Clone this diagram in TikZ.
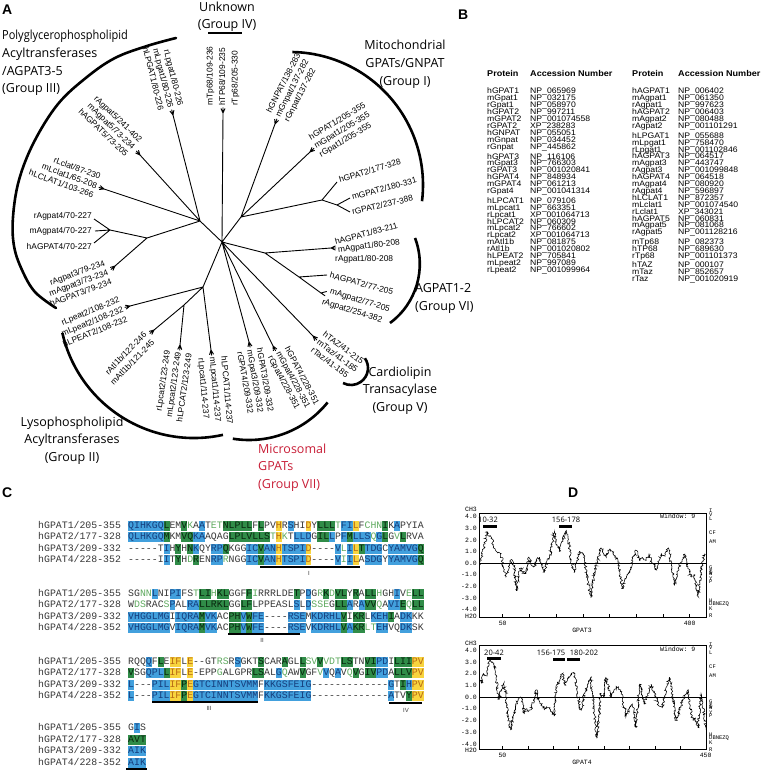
\documentclass[tikz,border=0pt]{standalone}
\usepackage{fontspec}
\setmainfont{Liberation Sans}
\setmonofont{Liberation Mono}
\newfontfamily\grpfont{Open Sans}
\newfontfamily\tabfont{Liberation Sans}[FakeStretch=1.08]
\usetikzlibrary{decorations.pathmorphing}
\definecolor{sqB}{RGB}{66,160,221}
\definecolor{sqBt}{RGB}{22,62,125}
\definecolor{sqG}{RGB}{48,140,72}
\definecolor{sqGt}{RGB}{8,38,14}
\definecolor{sqY}{RGB}{248,212,62}
\definecolor{sqYt}{RGB}{185,105,20}
\definecolor{sqL}{RGB}{95,170,95}
\definecolor{sqP}{RGB}{55,55,55}
\definecolor{grpred}{RGB}{200,30,55}
\newcommand\rsbox[3]{{\setlength{\fboxsep}{0pt}\colorbox{#1}{\textcolor{#2}{\rule[-2.6pt]{0pt}{10pt}#3}}}}
\newcommand\rsB[1]{\rsbox{sqB}{sqBt}{#1}}
\newcommand\rsG[1]{\rsbox{sqG}{sqGt}{#1}}
\newcommand\rsY[1]{\rsbox{sqY}{sqYt}{#1}}
\newcommand\rsL[1]{\textcolor{sqL}{#1}}
\newcommand\rsP[1]{\textcolor{sqP}{#1}}
\newcommand\mytwig[2]{\draw[tedge] (#1) -- ++(#2-24:5) (#1) -- ++(#2:5.5) (#1) -- ++(#2+24:5);}
\newcommand\tabgroup[5]{\foreach \p/\a [count=\i] in {#5} {\node[tb] (#1p\i) at (#2,{#4+(\i-1)*6.9}) {\p}; \node[tb] (#1a\i) at (#3,{#4+(\i-1)*6.9}) {\a};}}
\tikzset{
  tedge/.style={line width=0.9pt},
  grp/.style={line width=2.6pt},
  lbl/.style={font=\fontsize{8.4}{10}\selectfont, inner sep=0pt, align=left},
  lblr/.style={lbl, align=right},
  gtxt/.style={font=\grpfont\fontsize{12.5}{15}\selectfont, inner sep=0pt},
  plet/.style={font=\bfseries\fontsize{14}{14}\selectfont, inner sep=0pt, anchor=base west},
  tb/.style={font=\tabfont\fontsize{8}{8}\selectfont, inner sep=0pt, anchor=base west},
  tbh/.style={font=\tabfont\bfseries\fontsize{8.4}{9}\selectfont, inner sep=0pt, anchor=base west},
  seqtxt/.style={font=\ttfamily\fontsize{9.85}{11.5}\selectfont, inner sep=0pt, anchor=base west, text=sqP},
  uline/.style={line width=1.3pt},
  ulab/.style={font=\fontsize{6}{6}\selectfont, inner sep=0pt, anchor=base, text=sqP},
  axl/.style={font=\ttfamily\fontsize{6.5}{7}\selectfont, inner sep=0pt},
  axr/.style={font=\ttfamily\fontsize{5.5}{6}\selectfont, inner sep=0pt, anchor=base west},
  hlab/.style={font=\grpfont\fontsize{7.5}{8}\selectfont, inner sep=0pt, anchor=base},
  hbar/.style={line width=3pt},
  trace/.style={line width=0.55pt, decorate, decoration={random steps, segment length=1pt, amplitude=1.3pt}}
}
\begin{document}
\begin{tikzpicture}[x=1pt,y=-1pt]
\useasboundingbox (0,0) rectangle (766,773);
\pgfmathsetseed{7}
% ---------------- panel letters
\node[plet] (pA) at (2,15) {A};
\node[plet] (pB) at (458,20) {B};
\node[plet] (pC) at (2,497) {C};
\node[plet] (pD) at (568,497) {D};
% ---------------- tree: internal nodes
\coordinate (N1) at (200,221);
\coordinate (Nc) at (222,242);
\coordinate (Nm) at (241,217);
\coordinate (Nag) at (265,253);
\coordinate (Nag2) at (299,277);
\coordinate (A34) at (147,238);
\coordinate (NL1) at (203,287);
\coordinate (NL2) at (184,305);
% forks
\coordinate (Flpg) at (173,115);
\coordinate (Fa5) at (140,155);
\coordinate (Flc) at (104,189);
\coordinate (Fa4) at (110,230);
\coordinate (Fa3) at (115,266);
\coordinate (Ftp) at (223,113);
\coordinate (Fgn) at (275,124);
\coordinate (Fg1) at (310,152);
\coordinate (Fg2) at (322,200);
\coordinate (Fg2b) at (337,205);
\coordinate (Fa1) at (331,248);
\coordinate (Fa2b) at (321,293);
\coordinate (Ftaz) at (313,336);
\coordinate (Fg4) at (273,346);
\coordinate (Fg3) at (249,342);
\coordinate (Flpe) at (130,306);
\coordinate (Fatl) at (154,330);
\coordinate (Flpc2) at (180,345);
\coordinate (Flpc1) at (211,350);
% leaves
\coordinate (Lh2) at (337,182);
\coordinate (Lm2) at (350,198);
\coordinate (Lr2) at (350,212);
\coordinate (Lha2) at (327,275);
\coordinate (La4r) at (94,219);
\coordinate (La4m) at (95,231);
\coordinate (La4h) at (94,243);
\draw[tedge] (N1) -- (Flpg) (N1) -- (Fa5) (N1) -- (Flc) (N1) -- (A34) (N1) -- (Nc)
  (A34) -- (Fa4) (A34) -- (Fa3)
  (Nc) -- (Ftp) (Nc) -- (Nm) (Nm) -- (Fgn) (Nm) -- (Fg1) (Nm) -- (Fg2)
  (Fg2) -- (Fg2b) (Fg2) -- (Lh2) (Fg2b) -- (Lm2) (Fg2b) -- (Lr2)
  (Nc) -- (Nag) (Nag) -- (Fa1) (Nag) -- (Nag2) (Nag2) -- (Fa2b) (Nag2) -- (Lha2)
  (Nc) -- (Ftaz) (Nc) -- (Fg4) (Nc) -- (Fg3)
  (Nc) -- (NL1) (NL1) -- (Flpe) (NL1) -- (NL2) (NL2) -- (Fatl) (NL2) -- (Flpc2) (NL1) -- (Flpc1)
  (Fa4) -- (La4r) (Fa4) -- (La4m) (Fa4) -- (La4h);
\draw[tedge] (Fa2b) -- ++(-15:6) (Fa2b) -- ++(35:5);
\draw[tedge] (Fa1) -- ++(-25:5) (Fa1) -- ++(0:5) (Fa1) -- ++(25:5);
\mytwig{Flpg}{-104}
\mytwig{Fa5}{-132}
\mytwig{Flc}{-162}
\mytwig{Fa3}{139}
\mytwig{Ftp}{-90}
\mytwig{Fgn}{-70}
\mytwig{Fg1}{-43}
\mytwig{Ftaz}{46}
\mytwig{Fg4}{62}
\mytwig{Fg3}{78}
\mytwig{Flpe}{165}
\mytwig{Fatl}{140}
\mytwig{Flpc2}{93}
\mytwig{Flpc1}{83}
% leaf labels
\node[lblr, anchor=east, rotate=-76] (tLpg) at (171,108) {rLpgat1/80-226\\mLpgat1/80-226\\hLPGAT1/80-226};
\node[lblr, anchor=east, rotate=-44] (tA5) at (134,148) {rAgpat5/241-402\\mAgpat5/73-234\\hAGPAT5/73-205};
\node[lblr, anchor=east, rotate=-20] (tLc) at (97,186) {rLclat/87-230\\mLclat1/65-208\\hLCLAT1/103-266};
\node[lbl, anchor=east] (tA4r) at (92,216) {rAgpat4/70-227};
\node[lbl, anchor=east] (tA4m) at (92,231) {mAgpat4/70-227};
\node[lbl, anchor=east] (tA4h) at (92,246) {hAGPAT4/70-227};
\node[lblr, anchor=east, rotate=20] (tA3) at (108,272) {rAgpat3/79-234\\mAgpat3/73-234\\hAGPAT3/79-234};
\node[lblr, anchor=east, rotate=22, font=\fontsize{8.4}{10.5}\selectfont] (tLpe) at (123,309) {rLpeat2/108-232\\mLpeat2/108-232\\hLPEAT2/108-232};
\node[lblr, anchor=east, rotate=46, font=\fontsize{8.4}{11}\selectfont] (tAtl) at (149,337) {rAtl1b/122-246\\mAtl1b/121-245};
\node[lblr, anchor=east, rotate=82, font=\fontsize{8.4}{11}\selectfont] (tLpc2) at (178,352) {rLpcat2/123-249\\mLpcat2/123-249\\hLPCAT2/123-249};
\node[lbl, anchor=west, rotate=-85, font=\fontsize{8.4}{11.5}\selectfont] (tLpc1) at (212,357) {hLPCAT1/114-237\\mLpcat1/114-237\\rLpcat1/114-237};
\node[lbl, anchor=west, rotate=-80] (tG3) at (250,350) {hGPAT3/209-332\\mGpat3/209-332\\rGPAT4/209-332};
\node[lbl, anchor=west, rotate=-62, font=\fontsize{8.4}{9.5}\selectfont] (tG4) at (278,352) {hGPAT4/228-351\\mGpat4/228-351\\rGpat4/228-351};
\node[lbl, anchor=west, rotate=-37] (tTaz) at (318,341) {hTAZ/41-215\\mTaz/41-185\\rTaz/41-185};
\node[lbl, anchor=west, rotate=-15] (tA2h) at (330,275) {hAGPAT2/77-205};
\node[lbl, anchor=west, rotate=-17] (tA2m) at (330,291.5) {mAgpat2/77-205};
\node[lbl, anchor=west, rotate=-17] (tA2r) at (322,302) {rAgpat2/254-382};
\node[lbl, anchor=west, rotate=15] (tA1h) at (335,242) {hAGPAT1/83-211};
\node[lbl, anchor=west, rotate=7] (tA1m) at (338,250) {mAgpat1/80-208};
\node[lbl, anchor=west] (tA1r) at (335,259) {rAgpat1/80-208};
\node[lbl, anchor=west, rotate=17] (tG2h) at (339,180) {hGPAT2/177-328};
\node[lbl, anchor=west, rotate=15] (tG2m) at (352,197) {mGPAT2/180-331};
\node[lbl, anchor=west, rotate=13] (tG2r) at (352,212) {rGPAT2/237-388};
\node[lbl, anchor=west, rotate=31] (tG1) at (315,147) {hGPAT1/205-355\\mGpat1/205-355\\rGpat1/205-355};
\node[lbl, anchor=west, rotate=63] (tGn) at (278,117) {hGNPAT/138-283\\mGnpat/137-282\\rGnpat/137-282};
\node[lbl, anchor=west, rotate=90, font=\fontsize{8.4}{12.5}\selectfont] (tTp) at (223,106) {mTp68/109-236\\hTP68/109-235\\rTp68/205-330};
% group arcs
\draw[grp, line cap=round] plot[smooth, tension=0.6] coordinates {(176,38) (147,46) (115,58) (87,77) (58,104) (34,142) (19,180) (13,217) (14,246) (22,270) (35,292) (56,308)};
\draw[grp] ([shift={(-89:133)}]290,185) arc[start angle=-89, end angle=7, radius=133];
\draw[grp] ([shift={(167.2:135)}]194,303) arc[start angle=167.2, end angle=77.6, radius=135];
\draw[grp] ([shift={(99.2:101)}]249,339) arc[start angle=99.2, end angle=38.9, radius=101];
\draw[grp] ([shift={(-20.8:73.3)}]346.5,264) arc[start angle=-20.8, end angle=53.6, radius=73.3];
\draw[grp] ([shift={(-35:17)}]351,368) arc[start angle=-35, end angle=118, radius=17];
\draw[grp] (208,33) -- (242,33);
% group labels
\node[gtxt, anchor=base west] (g3a) at (2,40) {\scalebox{0.88}[1]{Polyglycerophospholipid}};
\node[gtxt, anchor=base west] (g3b) at (2,58) {Acyltransferases};
\node[gtxt, anchor=base west] (g3c) at (2,76) {/AGPAT3-5};
\node[gtxt, anchor=base west] (g3d) at (2,93) {(Group III)};
\node[gtxt, anchor=base] (g4a) at (227,12) {Unknown};
\node[gtxt, anchor=base] (g4b) at (227,29) {(Group IV)};
\node[gtxt, anchor=base] (g1a) at (405,50) {Mitochondrial};
\node[gtxt, anchor=base] (g1b) at (405,68) {GPATs/GNPAT};
\node[gtxt, anchor=base] (g1c) at (405,86) {(Group I)};
\node[gtxt, anchor=base west] (g6a) at (415,292) {AGPAT1-2};
\node[gtxt, anchor=base west] (g6b) at (415,310) {(Group VI)};
\node[gtxt, anchor=base] (g5a) at (400,376) {Cardiolipin};
\node[gtxt, anchor=base] (g5b) at (400,393) {Transacylase};
\node[gtxt, anchor=base] (g5c) at (400,411) {(Group V)};
\node[gtxt, anchor=base west, text=grpred] (g7a) at (258,453) {Microsomal};
\node[gtxt, anchor=base west, text=grpred] (g7b) at (258,470) {GPATs};
\node[gtxt, anchor=base west, text=grpred] (g7c) at (258,488) {(Group VII)};
\node[gtxt, anchor=base] (g2a) at (72,426) {Lysophospholipid};
\node[gtxt, anchor=base] (g2b) at (72,443) {Acyltransferases};
\node[gtxt, anchor=base] (g2c) at (72,461) {(Group II)};
% ---------------- panel B
\node[tbh] (hP1) at (487,77) {Protein};
\node[tbh] (hA1) at (530,77) {Accession Number};
\node[tbh] (hP2) at (632,77) {Protein};
\node[tbh] (hA2) at (678,77) {Accession Number};
\tabgroup{ba}{487}{530}{94}{hGPAT1/NP\_065969,mGpat1/NP\_032175,rGpat1/NP\_058970,hGPAT2/NP\_997211,mGPAT2/NP\_001074558,rGPAT2/XP\_238283,hGNPAT/NP\_055051,mGnpat/NP\_034452,rGnpat/NP\_445862}
\tabgroup{bb}{487}{530}{159}{hGPAT3/NP\_116106,mGpat3/NP\_766303,rGPAT3/NP\_001020841,hGPAT4/NP\_848934,mGPAT4/NP\_061213,rGpat4/NP\_001041314}
\tabgroup{bc}{487}{530}{203.3}{hLPCAT1/NP\_079106,mLpcat1/NP\_663351,rLpcat1/XP\_001064713,hLPCAT2/NP\_060309,mLpcat2/NP\_766602,rLpcat2/XP\_001064713,mAtl1b/NP\_081875,rAtl1b/NP\_001020802,hLPEAT2/NP\_705841,mLpeat2/NP\_997089,rLpeat2/NP\_001099964}
\tabgroup{bd}{632}{678}{94}{hAGPAT1/NP\_006402,mAgpat1/NP\_061350,rAgpat1/NP\_997623,hAGPAT2/NP\_006403,mAgpat2/NP\_080488,rAgpat2/NP\_001101291}
\tabgroup{be}{632}{678}{138.2}{hLPGAT1/NP\_055688,mLpgat1/NP\_758470,rLpgat1/NP\_001102846,hAGPAT3/NP\_064517,mAgpat3/NP\_443747,rAgpat3/NP\_001099848,hAGPAT4/NP\_064518,mAgpat4/NP\_080920,rAgpat4/NP\_596897,hLCLAT1/NP\_872357,mLclat1/NP\_001074540,rLclat1/XP\_343021,hAGPAT5/NP\_060831,mAgpat5/NP\_081068,rAgpat5/NP\_001128216}
\tabgroup{bf}{632}{678}{244.3}{mTp68/NP\_082373,hTP68/NP\_689630,rTp68/NP\_001101373}
\tabgroup{bg}{632}{678}{267.6}{hTAZ/NP\_000107,mTaz/NP\_852657,rTaz/NP\_001020919}
% ---------------- panel C
\foreach \blk/\yy in {1/528.2,2/596.2,3/664,4/730.5}{
  \node[seqtxt] (n\blk a) at (38,\yy) {hGPAT1/205-355};
  \node[seqtxt] (n\blk b) at (38,\yy+11.5) {hGPAT2/177-328};
  \node[seqtxt] (n\blk c) at (38,\yy+23) {hGPAT3/209-332};
  \node[seqtxt] (n\blk d) at (38,\yy+34.5) {hGPAT4/228-352};
}
\node[seqtxt] (s1a) at (128,528.2) {\rsB{QIHKGQ}\rsG{L}\rsP{EM}\rsG{V}\rsL{K}\rsP{A}\rsB{A}\rsP{T}\rsL{ET}\rsG{NLPLL}\rsP{F}\rsG{L}\rsP{PV}\rsY{H}\rsP{R}\rsB{S}\rsP{HI}\rsY{D}\rsP{Y}\rsG{LLL}\rsL{T}\rsB{FI}\rsY{L}\rsP{F}\rsL{CHN}\rsG{I}\rsP{K}\rsB{A}\rsP{PYIA}};
\node[seqtxt] (s1b) at (128,539.7) {\rsB{QLHKGQ}\rsG{M}\rsP{KM}\rsG{VQ}\rsB{KA}\rsP{AQAG}\rsG{LPLVLLS}\rsL{T}\rsY{H}\rsL{K}\rsP{T}\rsB{LLD}\rsP{G}\rsG{IL}\rsB{L}\rsP{P}\rsB{F}\rsG{M}\rsB{LLS}\rsL{Q}\rsB{G}\rsG{L}\rsP{G}\rsL{V}\rsG{L}\rsP{RVA}};
\node[seqtxt] (s1c) at (128,551.2) {\rsP{-----T}\rsB{I}\rsP{H}\rsG{Y}\rsP{H}\rsG{N}\rsB{K}\rsP{QY}\rsB{RP}\rsG{Q}\rsP{KGG}\rsB{IC}\rsG{V}\rsB{AN}\rsY{H}\rsB{TSPI}\rsY{D}\rsP{----}\rsB{V}\rsL{L}\rsB{I}\rsY{L}\rsG{T}\rsB{TDG}\rsP{C}\rsB{YAMVG}\rsG{Q}};
\node[seqtxt] (s1d) at (128,562.7) {\rsP{-----I}\rsB{I}\rsP{T}\rsG{Y}\rsP{H}\rsL{D}\rsG{R}\rsP{EN}\rsB{RP}\rsL{R}\rsP{NGG}\rsB{IC}\rsG{V}\rsB{AN}\rsY{H}\rsB{TSPI}\rsY{D}\rsP{----}\rsB{V}\rsL{I}\rsB{I}\rsY{L}\rsP{A}\rsB{SDG}\rsP{Y}\rsB{YAMVG}\rsG{Q}};
\node[seqtxt] (s2a) at (128,596.2) {\rsP{SG}\rsL{NN}\rsB{L}\rsP{NI}\rsB{PI}\rsP{FS}\rsL{T}\rsG{LI}\rsL{H}\rsG{KL}\rsP{GGF}\rsG{F}\rsL{I}\rsP{RRRLDE}\rsG{T}\rsP{P}\rsB{D}\rsP{G}\rsL{R}\rsG{K}\rsL{D}\rsG{VL}\rsP{Y}\rsG{R}\rsP{A}\rsG{LL}\rsL{H}\rsP{GH}\rsB{I}\rsP{V}\rsL{E}\rsG{LL}};
\node[seqtxt] (s2b) at (128,607.7) {\rsP{W}\rsL{DS}\rsP{RAC}\rsL{S}\rsB{P}\rsP{AL}\rsB{RA}\rsG{LLRKL}\rsP{GG}\rsG{LF}\rsP{LPPEASL}\rsB{S}\rsP{L}\rsB{D}\rsL{SSE}\rsP{G}\rsG{LL}\rsB{A}\rsP{R}\rsB{A}\rsG{VV}\rsL{Q}\rsP{A}\rsB{VI}\rsG{E}\rsL{Q}\rsG{LL}};
\node[seqtxt] (s2c) at (128,619.2) {\rsB{VHGGLMG}\rsP{I}\rsB{IQRA}\rsG{M}\rsB{VK}\rsP{AC}\rsG{PH}\rsB{V}\rsG{W}\rsB{FE}\rsP{----}\rsB{RSE}\rsP{M}\rsB{KDRHL}\rsG{V}\rsP{I}\rsG{KR}\rsP{L}\rsB{KEH}\rsG{I}\rsP{A}\rsB{DK}\rsP{KK}};
\node[seqtxt] (s2d) at (128,630.7) {\rsB{VHGGLMG}\rsP{V}\rsB{IQRA}\rsG{M}\rsB{VK}\rsP{AC}\rsG{PH}\rsB{V}\rsG{W}\rsB{FE}\rsP{----}\rsB{RSE}\rsP{V}\rsB{KDRHL}\rsG{V}\rsB{A}\rsG{KR}\rsL{LT}\rsB{EH}\rsP{VQ}\rsB{DK}\rsP{SK}};
\node[seqtxt] (s3a) at (128,664) {\rsP{RQQ}\rsB{Q}\rsP{F}\rsG{L}\rsP{E}\rsY{IF}\rsP{L}\rsY{E}\rsP{--GT}\rsL{RS}\rsP{R}\rsB{S}\rsP{GKT}\rsG{S}\rsP{CAR}\rsG{A}\rsP{GL}\rsG{L}\rsL{SV}\rsG{V}\rsL{VDT}\rsG{LS}\rsP{TN}\rsG{VI}\rsB{PD}\rsP{I}\rsG{LII}\rsY{PV}};
\node[seqtxt] (s3b) at (128,675.5) {\rsG{V}\rsP{SG}\rsB{QPL}\rsG{L}\rsY{IF}\rsP{L}\rsY{E}\rsP{-EPP}\rsL{G}\rsP{ALGPR}\rsG{LS}\rsP{AL}\rsB{G}\rsL{Q}\rsP{AW}\rsG{V}\rsP{GF}\rsL{V}\rsB{V}\rsP{Q}\rsB{A}\rsP{V}\rsL{Q}\rsG{V}\rsP{G}\rsG{IV}\rsB{PD}\rsP{A}\rsG{LLV}\rsY{PV}};
\node[seqtxt] (s3c) at (128,687) {\rsB{L}\rsP{---}\rsB{PIL}\rsY{IF}\rsG{P}\rsY{E}\rsB{GTCINNTSVMM}\rsP{F}\rsB{KKGSFEIG}\rsP{-------------}\rsB{G}\rsP{T}\rsG{I}\rsB{H}\rsY{PV}};
\node[seqtxt] (s3d) at (128,698.5) {\rsB{L}\rsP{---}\rsB{PIL}\rsY{IF}\rsG{P}\rsY{E}\rsB{GTCINNTSVMM}\rsP{F}\rsB{KKGSFEIG}\rsP{-------------}\rsB{A}\rsP{TV}\rsG{Y}\rsY{PV}};
\node[seqtxt] (s4a) at (128,730.5) {\rsP{G}\rsB{I}\rsP{S}};
\node[seqtxt] (s4b) at (128,742) {\rsG{AVT}};
\node[seqtxt] (s4c) at (128,753.5) {\rsB{AIK}};
\node[seqtxt] (s4d) at (128,765) {\rsB{AIK}};
\draw[uline] (260,567) -- (360,567);
\node[ulab] (uI) at (309,575) {I};
\draw[uline] (228,634) -- (300,634);
\node[ulab] (uII) at (262,642) {II};
\draw[uline] (152,702) -- (258,702);
\node[ulab] (uIII) at (209,710) {III};
\draw[uline] (389,703) -- (422,703);
\node[ulab] (uIV) at (406,712) {IV};
\draw[uline] (126,769) -- (147,769);
% ---------------- panel D
% plot 1
\draw[line width=0.6pt] (479,513) rectangle (706,617);
\draw[line width=0.5pt] (479,563) -- (706,563);
\foreach \k in {1,...,8} \draw[line width=0.5pt] ({476+0.534*50*\k},617) -- ++(0,-3);
\foreach \v/\t in {4/4.0,3/3.0,2/2.0,1/1.0,0/0.0,-1/-1.0,-2/-2.0,-3/-3.0,-4/-4.0}
  \node[axl, anchor=base east] at (477,{563-11.6*\v+2.2}) {\t};
\node[axl, anchor=base east] (ch1) at (477,511) {CH3};
\node[axl, anchor=base east] (ho1) at (477,618) {H2O};
\foreach \v/\t in {4.5/I,4.2/V,3.8/L,2.65/CF,1.85/AM,-0.4/G,-0.7/T,-0.8/S,-0.9/W,-1.3/Y,-1.6/P,-3.2/H,-3.5/DBNEZQ,-3.9/K,-4.5/R}
  \node[axr] at (709,{563-11.6*\v+2}) {\t};
\node[axl, anchor=base west] (w1) at (660,518) {Window: 9};
\node[axl, anchor=base] (x1a) at (502.7,625) {50};
\node[axl, anchor=base] (x1b) at (689.6,625) {400};
\node[axl, anchor=base] (x1c) at (582,632) {GPAT3};
\node[hlab] (h1a) at (488,522) {10-32};
\node[hlab] (h1b) at (566,522) {156-178};
\draw[hbar] (483,526.5) -- (497,526.5);
\draw[hbar] (559,526.5) -- (572,526.5);
\begin{scope}
\clip (479,513) rectangle (706,617);
\begin{scope}[shift={(476,563)}, x=0.534pt, y=11.6pt]
\draw[trace] plot coordinates {(6,-0.3) (12,0.8) (17,1.7) (21,2.7) (25,2.3) (29,2.2) (33,1.4) (38,1.0) (43,0.9) (47,0.8) (52,-0.5) (56,-1.2) (61,-0.6) (66,0.3) (71,-0.3) (76,-2.4) (80,-1.0) (84,-0.4) (89,-0.9) (94,-0.8) (99,0.5) (104,-0.2) (109,-0.3) (114,0.2) (119,0.5) (124,-0.4) (128,-0.8) (133,0.2) (138,0.5) (143,1.8) (147,2.7) (151,1.6) (156,1.0) (162,2.0) (169,2.8) (174,1.6) (178,0.2) (184,-0.8) (189,0.2) (194,1.0) (199,0.9) (203,0.5) (209,-1.5) (215,-3.0) (220,-1.2) (225,-0.1) (230,0.6) (234,1.3) (239,0.8) (244,0.5) (250,1.2) (256,1.0) (261,0.6) (266,0.2) (270,-1.0) (274,-2.2) (278,-1.5) (282,-1.2) (288,-0.8) (293,0.2) (299,1.1) (303,0.8) (307,0.2) (312,0.5) (318,0.2) (324,0.8) (330,0.0) (338,-0.6) (342,0.0) (347,0.8) (353,0.6) (360,1.3) (366,-0.2) (372,-1.9) (377,-1.0) (381,-0.2) (386,0.3) (391,0.8) (397,-0.5) (403,-1.2) (409,-1.0) (413,-2.0) (416,-2.9) (419,-1.5) (422,-0.6) (425,0.2) (428,0.8)};
\end{scope}
\end{scope}
% plot 2
\draw[line width=0.6pt] (479,645) rectangle (706,749);
\draw[line width=0.5pt] (479,697) -- (706,697);
\foreach \k in {1,...,8} \draw[line width=0.5pt] ({477+0.508*50*\k},749) -- ++(0,-3);
\foreach \v/\t in {4/4.0,3/3.0,2/2.0,1/1.0,0/0.0,-1/-1.0,-2/-2.0,-3/-3.0,-4/-4.0}
  \node[axl, anchor=base east] at (477,{697-11.7*\v+2.2}) {\t};
\node[axl, anchor=base east] (ch2) at (477,645) {CH3};
\node[axl, anchor=base east] (ho2) at (477,752) {H2O};
\foreach \v/\t in {4.5/I,4.2/V,3.8/L,2.65/CF,1.85/AM,-0.4/G,-0.7/T,-0.8/S,-0.9/W,-1.3/Y,-1.6/P,-3.2/H,-3.5/DBNEZQ,-3.9/K,-4.5/R}
  \node[axr] at (709,{697-11.7*\v+2}) {\t};
\node[axl, anchor=base west] (w2) at (660,651) {Window: 9};
\node[axl, anchor=base] (x2a) at (502.4,757) {50};
\node[axl, anchor=base] (x2b) at (705.6,757) {450};
\node[axl, anchor=base] (x2c) at (582,764) {GPAT4};
\node[hlab] (h2a) at (494,655) {20-42};
\node[hlab] (h2b) at (551,655) {156-175};
\node[hlab] (h2c) at (584,655) {180-202};
\draw[hbar] (487,658.5) -- (501,658.5);
\draw[hbar] (553,659) -- (565,659);
\draw[hbar] (567,659) -- (580,659);
\begin{scope}
\clip (479,645) rectangle (706,749);
\begin{scope}[shift={(477,697)}, x=0.508pt, y=11.7pt]
\draw[trace] plot coordinates {(5,1.45) (9,1.2) (13,2.0) (18,1.8) (22,2.6) (26,3.2) (30,3.0) (33,2.9) (38,1.5) (43,-0.2) (47,0.5) (50,0.8) (53,1.2) (57,0.2) (61,-1.5) (66,-2.8) (70,-2.0) (76,-0.8) (81,-0.3) (86,0.0) (90,-0.6) (93,-1.4) (98,-1.0) (102,-1.2) (106,-1.1) (111,-0.3) (116,0.6) (121,-0.2) (126,-0.6) (132,-1.0) (139,-0.9) (145,-1.1) (152,-1.6) (155,0.2) (158,1.1) (163,1.5) (168,2.0) (173,1.0) (178,1.4) (184,1.8) (191,2.1) (197,0.5) (203,-1.1) (207,-0.8) (211,0.3) (217,0.8) (224,1.7) (230,-1.0) (236,-3.5) (240,-1.5) (244,0.3) (249,0.0) (254,1.7) (259,0.9) (264,0.0) (269,0.4) (274,0.9) (279,0.7) (283,0.6) (288,-0.5) (293,-1.7) (300,-1.0) (306,-0.6) (310,-1.5) (313,-2.6) (317,-0.5) (320,1.1) (325,0.5) (329,-0.6) (336,0.3) (343,1.1) (350,0.2) (356,-0.6) (361,-0.8) (365,-0.9) (372,0.8) (379,1.7) (386,0.0) (392,-2.0) (398,-1.2) (405,-0.3) (410,0.2) (415,0.6) (420,-1.0) (425,-2.0) (430,-1.8) (435,-2.6) (438,-1.0) (441,0.3) (446,-1.0) (451,-2.8)};
\end{scope}
\end{scope}
\end{tikzpicture}
\end{document}
